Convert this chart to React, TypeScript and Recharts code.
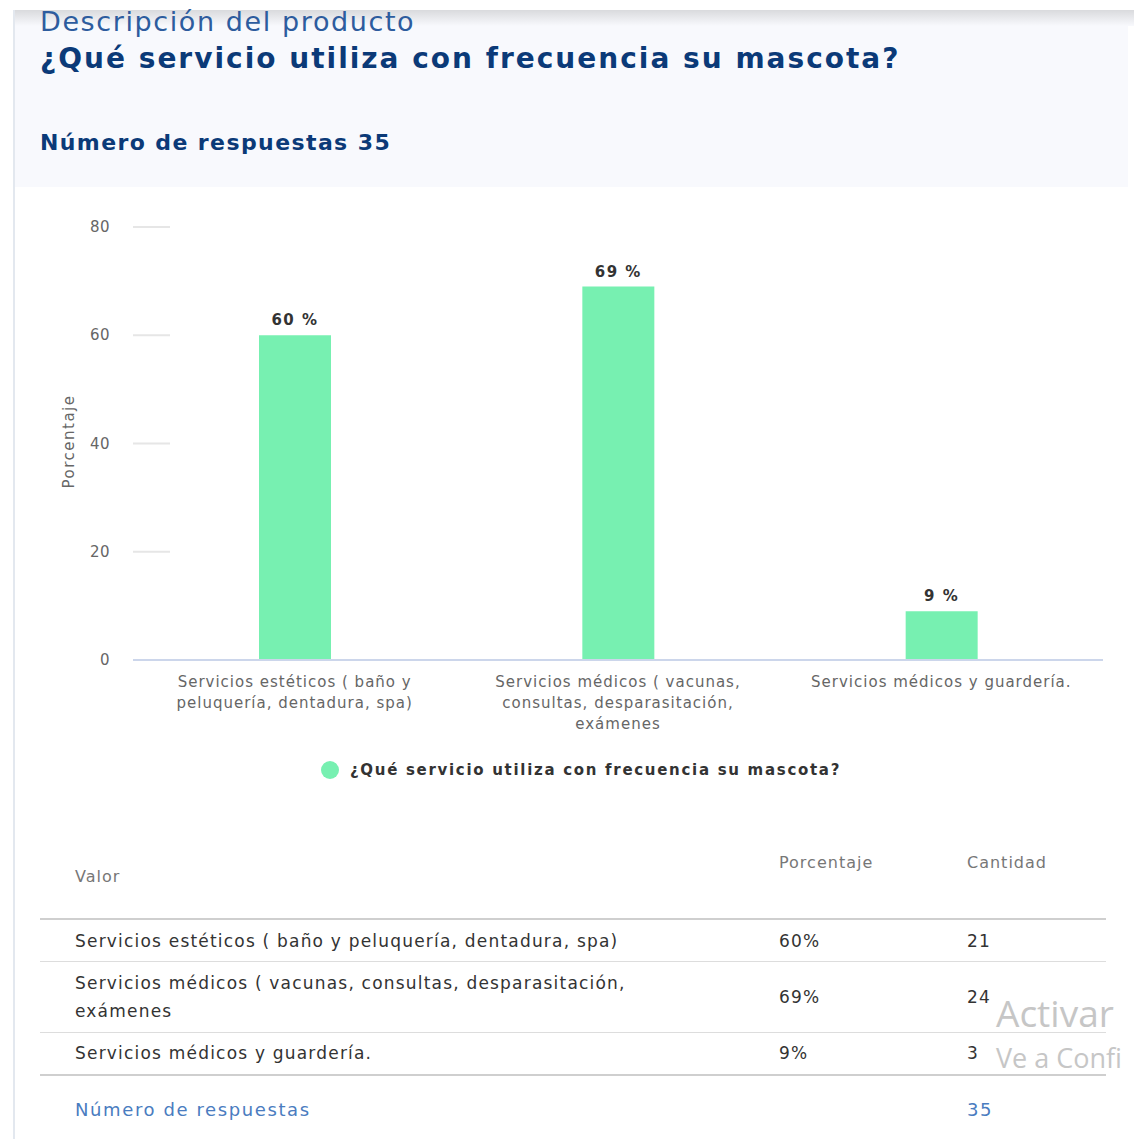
import React from 'react';
import { BarChart, Bar, XAxis, YAxis, Legend, LabelList, Text } from 'recharts';

const FONT = '"DejaVu Sans", Verdana, sans-serif';

const sectionLabel = 'Descripción del producto';
const question = '¿Qué servicio utiliza con frecuencia su mascota?';
const totalResponses = 35;

const categories = [
  'Servicios estéticos ( baño y peluquería, dentadura, spa)',
  'Servicios médicos ( vacunas, consultas, desparasitación, exámenes',
  'Servicios médicos y guardería.',
];
const percentages = [60, 69, 9];
const counts = [21, 24, 3];
const yTicks = [0, 20, 40, 60, 80];

const chartData = categories.map((c, i) => ({ name: c, value: percentages[i] }));

const BAR_COLOR = '#77f0b1';

const YTick = (props: any) => {
  const { x, y, payload } = props;
  return (
    <g>
      <text x={x - 23} y={y} textAnchor="end" dominantBaseline="central" fontSize={15} fill="#666" fontFamily={FONT} letterSpacing={0.5}>
        {payload.value}
      </text>
      <line x1={x} x2={x + 37} y1={y} y2={y} stroke={payload.value === 0 ? '#ccd6eb' : '#e6e6e6'} strokeWidth={2} />
    </g>
  );
};

const XTick = (props: any) => {
  const { x, y, payload } = props;
  return (
    <Text
      x={x}
      y={y + 16}
      width={300}
      textAnchor="middle"
      verticalAnchor="start"
      lineHeight={21}
      style={{ fontSize: 15, fontFamily: FONT, letterSpacing: 1 }}
      fill="#666"
    >
      {payload.value}
    </Text>
  );
};

const LegendContent = (props: any) => {
  const { payload } = props;
  return (
    <div style={{ display: 'flex', justifyContent: 'center', alignItems: 'center' }}>
      {(payload || []).map((p: any, i: number) => (
        <div key={i} style={{ display: 'flex', alignItems: 'center' }}>
          <span style={{ width: 18, height: 18, borderRadius: 9, background: p.color, display: 'inline-block', marginRight: 11 }} />
          <span style={{ fontFamily: FONT, fontWeight: 'bold', fontSize: 15, color: '#333', letterSpacing: 1.7 }}>{p.value}</span>
        </div>
      ))}
    </div>
  );
};

const abs = (top: number, left: number, style: React.CSSProperties = {}): React.CSSProperties => ({
  position: 'absolute', top, left, whiteSpace: 'nowrap', ...style,
});

const cell: React.CSSProperties = { fontSize: 17, lineHeight: '28px', color: '#333', letterSpacing: 1.2 };

export default function App() {
  return (
    <div style={{ position: 'absolute', left: 0, top: 0, width: 1134, height: 1139, overflow: 'hidden', background: '#fff', fontFamily: FONT }}>
      {/* header panel */}
      <div style={{ position: 'absolute', left: 14, top: 10, width: 1114, height: 177, background: '#f8f9fd' }} />
      <div style={{ position: 'absolute', left: 14, top: 10, width: 1120, height: 16, background: 'linear-gradient(#d9dadd, #f8f9fd)' }} />
      <div style={{ position: 'absolute', left: 13, top: 10, width: 2, height: 1129, background: '#e3e8ef' }} />

      <div style={abs(8, 40, { fontSize: 27, lineHeight: '27px', color: '#2d5c9e', letterSpacing: 1.6 })}>{sectionLabel}</div>
      <div style={abs(45, 40, { fontSize: 28, lineHeight: '28px', fontWeight: 'bold', color: '#0b3a78', letterSpacing: 2 })}>{question}</div>
      <div style={abs(132, 40, { fontSize: 22, lineHeight: '22px', fontWeight: 'bold', color: '#0b3a78', letterSpacing: 1.4 })}>
        Número de respuestas {totalResponses}
      </div>

      <div style={{ position: 'absolute', left: 0, top: 190 }}>
        <BarChart width={1134} height={610} data={chartData} margin={{ top: 37, right: 31, left: 0, bottom: 0 }}>
          <YAxis
            width={133}
            domain={[0, 80]}
            ticks={yTicks}
            axisLine={false}
            tickLine={false}
            tickSize={0}
            tickMargin={0}
            tick={<YTick />}
            label={{ value: 'Porcentaje', angle: -90, position: 'center', fill: '#666', fontSize: 15, fontFamily: FONT, letterSpacing: 1.5, dx: 2, dy: -2 }}
          />
          <XAxis
            dataKey="name"
            height={140}
            interval={0}
            tickLine={false}
            tickSize={0}
            tickMargin={0}
            axisLine={{ stroke: '#ccd6eb', strokeWidth: 2 }}
            tick={<XTick />}
          />
          <Legend
            content={<LegendContent />}
            verticalAlign="bottom"
            wrapperStyle={{ position: 'absolute', top: 571, left: 0, width: 1162, height: 0 }}
          />
          <Bar dataKey="value" name={question} fill={BAR_COLOR} barSize={72} isAnimationActive={false}>
            <LabelList
              dataKey="value"
              position="top"
              offset={10}
              formatter={(v: any) => `${v} %`}
              style={{ fontWeight: 'bold', fontSize: 15, fill: '#333', fontFamily: FONT, letterSpacing: 1.5 }}
            />
          </Bar>
        </BarChart>
      </div>

      {/* table */}
      <div style={abs(867, 75, { fontSize: 16, lineHeight: '20px', color: '#777', letterSpacing: 1 })}>Valor</div>
      <div style={abs(853, 779, { fontSize: 16, lineHeight: '20px', color: '#777', letterSpacing: 1 })}>Porcentaje</div>
      <div style={abs(853, 967, { fontSize: 16, lineHeight: '20px', color: '#777', letterSpacing: 1 })}>Cantidad</div>

      <div style={{ position: 'absolute', left: 40, top: 918, width: 1066, height: 2, background: '#cfcfcf' }} />
      <div style={{ position: 'absolute', left: 40, top: 961, width: 1066, height: 1, background: '#ddd' }} />
      <div style={{ position: 'absolute', left: 40, top: 1032, width: 1066, height: 1, background: '#ddd' }} />
      <div style={{ position: 'absolute', left: 40, top: 1074, width: 1066, height: 2, background: '#cfcfcf' }} />

      {categories.map((c, i) => {
        const twoLine = i === 1;
        const midY = i === 0 ? 941 : i === 1 ? 997 : 1053;
        return (
          <React.Fragment key={i}>
            <div style={{ position: 'absolute', top: twoLine ? 969 : midY - 14, left: 75, width: 600, ...cell }}>
              {c}
            </div>
            <div style={abs(midY - 14, 779, cell)}>{percentages[i]}%</div>
            <div style={abs(midY - 14, 967, cell)}>{counts[i]}</div>
          </React.Fragment>
        );
      })}
      <div style={abs(1096, 75, { ...cell, fontSize: 18, letterSpacing: 1.6, color: '#4a7cc0' })}>Número de respuestas</div>
      <div style={abs(1096, 967, { ...cell, fontSize: 18, letterSpacing: 1.6, color: '#4a7cc0' })}>{totalResponses}</div>

      {/* watermark */}
      <div style={abs(991, 996, { fontSize: 37, lineHeight: '44px', color: '#c6c6c6', fontFamily: '"Open Sans", sans-serif' })}>Activar</div>
      <div style={abs(1040, 996, { fontSize: 27, lineHeight: '36px', color: '#c6c6c6', fontFamily: '"Open Sans", sans-serif' })}>Ve a Confi</div>
    </div>
  );
}
